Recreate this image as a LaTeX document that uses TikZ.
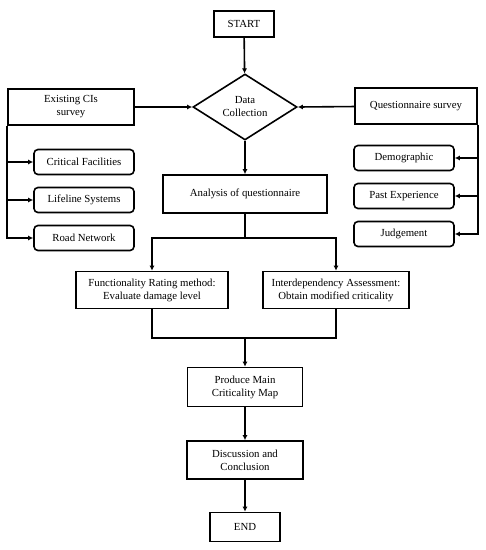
\documentclass[tikz,border=0pt]{standalone}
\usepackage{fontspec}
\setmainfont{Liberation Serif}
\usetikzlibrary{shapes.geometric,arrows.meta}
\begin{document}
\begin{tikzpicture}[x=1pt,y=-1pt,
  every node/.style={font=\fontsize{10.8}{13}\selectfont, align=center, inner sep=0pt},
  box/.style={draw, line width=1.6pt},
  rbox/.style={draw, line width=1.6pt, rounded corners=4pt, minimum width=100pt, minimum height=25pt},
  dia/.style={draw, line width=1.6pt, diamond, minimum width=104pt, minimum height=66pt},
  ln/.style={line width=1.6pt},
  arr/.style={line width=1.6pt, -{Latex[length=5pt,width=5pt]}}]
\useasboundingbox (0,0) rectangle (486,550);
\node[box, minimum width=60pt, minimum height=26pt] (start) at (244,24) {START};
\node[dia] (dc) at (245,107) {Data\\Collection};
\node[box, minimum width=126pt, minimum height=36pt] (ex) at (71,107) {Existing CIs\\survey};
\node[box, minimum width=122pt, minimum height=36pt] (qs) at (416,106) {Questionnaire survey};
\node[rbox] (cf) at (84,162) {Critical Facilities};
\node[rbox] (ls) at (84,200) {Lifeline Systems};
\node[rbox] (rn) at (84,238) {Road Network};
\node[rbox] (dem) at (404,158) {Demographic};
\node[rbox] (pe) at (404,196) {Past Experience};
\node[rbox] (ju) at (404,234) {Judgement};
\node[box, minimum width=164pt, minimum height=38pt] (an) at (245,194) {Analysis of questionnaire};
\node[box, minimum width=152pt, minimum height=37pt] (fr) at (152,290) {Functionality Rating method:\\Evaluate damage level};
\node[box, minimum width=146pt, minimum height=37pt] (ia) at (336,290) {Interdependency Assessment:\\Obtain modified criticality};
\node[box, minimum width=115pt, minimum height=39pt] (pm) at (245,387) {Produce Main\\Criticality Map};
\node[box, minimum width=116pt, minimum height=38pt] (dis) at (245,460) {Discussion and\\Conclusion};
\node[box, minimum width=70pt, minimum height=29pt] (end) at (245,527) {END};
\coordinate (j1) at (245,238);
\coordinate (j2) at (245,338);
\draw[arr] (start) -- (dc);
\draw[arr] (ex) -- (dc.west);
\draw[arr] (qs) -- (dc.east);
\draw[arr] (ex.south west) |- (cf);
\draw[arr] (ex.south west) |- (ls);
\draw[arr] (ex.south west) |- (rn);
\draw[arr] (qs.south east) |- (dem);
\draw[arr] (qs.south east) |- (pe);
\draw[arr] (qs.south east) |- (ju);
\draw[arr] (dc) -- (an);
\draw[ln] (an) -- (j1);
\draw[arr] (j1) -| (fr.north);
\draw[arr] (j1) -| (ia.north);
\draw[ln] (fr.south) |- (j2) -| (ia.south);
\draw[arr] (j2) -- (pm);
\draw[arr] (pm) -- (dis);
\draw[arr] (dis) -- (end);
\end{tikzpicture}
\end{document}
